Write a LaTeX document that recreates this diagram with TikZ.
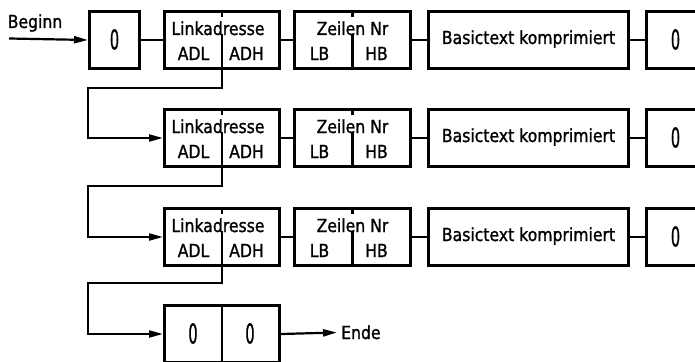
\documentclass[tikz,border=0pt]{standalone}
\usepackage{fontspec}
\usepackage{graphicx}
\setmainfont{DejaVu Sans}[FakeStretch=0.87,FakeBold=1.2]
\usetikzlibrary{arrows.meta,calc}
\newcommand{\zer}{{\fontsize{27}{30}\selectfont\scalebox{0.62}[1]{0}}}
\begin{document}
\begin{tikzpicture}[x=1pt,y=-1pt,
  box/.style={draw,line width=3pt,minimum height=57pt,inner sep=0pt,anchor=north west},
  con/.style={line width=2.2pt},
  arr/.style={line width=2.2pt,-{Triangle[length=14pt,width=7pt]}},
  div/.style={line width=2.2pt},
  txt/.style={font=\fontsize{18}{20}\selectfont,inner sep=0pt,anchor=base},
  zt/.style={inner sep=0pt,anchor=center}]
\useasboundingbox (0,0) rectangle (695,361);
\clip (0,0) rectangle (695,361);

% start
\node[box,minimum width=50pt] (S) at (88,10) {};
\node[zt] (S0) at ($(S.center)+(0,-0.5)$) {\zer};
\coordinate (beg) at (9,38.5);
\node[txt] (begtxt) at (35,28) {Beginn};
\draw[arr] (beg) -- (S.west);

\foreach \r/\t in {1/10,2/108,3/207}{
  \node[box,minimum width=115pt] (L\r) at (163,\t) {};
  \node[box,minimum width=116pt] (Z\r) at (293,\t) {};
  \node[box,minimum width=200pt] (B\r) at (427,\t) {};
  \node[box,minimum width=58pt] (E\r) at (645,\t) {};
  \draw[div] (L\r.north) -- ++(0,7);
  \draw[div] ($(L\r.north)+(0,24)$) -- (L\r.south);
  \draw[div] (Z\r.north) -- ++(0,7);
  \draw[div] ($(Z\r.north)+(0,24)$) -- (Z\r.south);
  \node[txt] (Lt\r) at ($(L\r.north)+(-4,25)$) {Linkadresse};
  \node[txt] (ADL\r) at ($(L\r.north)+(-28.5,50)$) {ADL};
  \node[txt] (ADH\r) at ($(L\r.north)+(24.5,50)$) {ADH};
  \node[txt] (Zt\r) at ($(Z\r.north)+(0,25)$) {Zeilen Nr};
  \node[txt] (LB\r) at ($(Z\r.north)+(-33,50)$) {LB};
  \node[txt] (HB\r) at ($(Z\r.north)+(24,50)$) {HB};
  \node[txt] (Bt\r) at ($(B\r.north)+(0,34)$) {Basictext komprimiert};
  \node[zt] (E0\r) at ($(E\r.center)+(0,-0.5)$) {\zer};
  \draw[con] (L\r) -- (Z\r);
  \draw[con] (Z\r) -- (B\r);
  \draw[con] (B\r) -- (E\r);
}
\draw[con] (S) -- (L1);

% end row
\node[box,minimum width=115pt] (N) at (163,304) {};
\draw[div] (N.north) -- (N.south);
\node[zt] (N0a) at ($(N.center)+(-29,-0.5)$) {\zer};
\node[zt] (N0b) at ($(N.center)+(28,-0.5)$) {\zer};
\coordinate (endpt) at (337,332.5);
\draw[arr] (N.east) -- (endpt);
\node[txt,anchor=base west] (endtxt) at (341,339) {Ende};

% link feedback lines
\coordinate (k1) at (88,88);
\coordinate (k2) at (88,186);
\coordinate (k3) at (88,283);
\draw[arr] (L1.south) |- (k1) |- (L2.west);
\draw[arr] (L2.south) |- (k2) |- (L3.west);
\draw[arr] (L3.south) |- (k3) |- (N.west);
\end{tikzpicture}
\end{document}
